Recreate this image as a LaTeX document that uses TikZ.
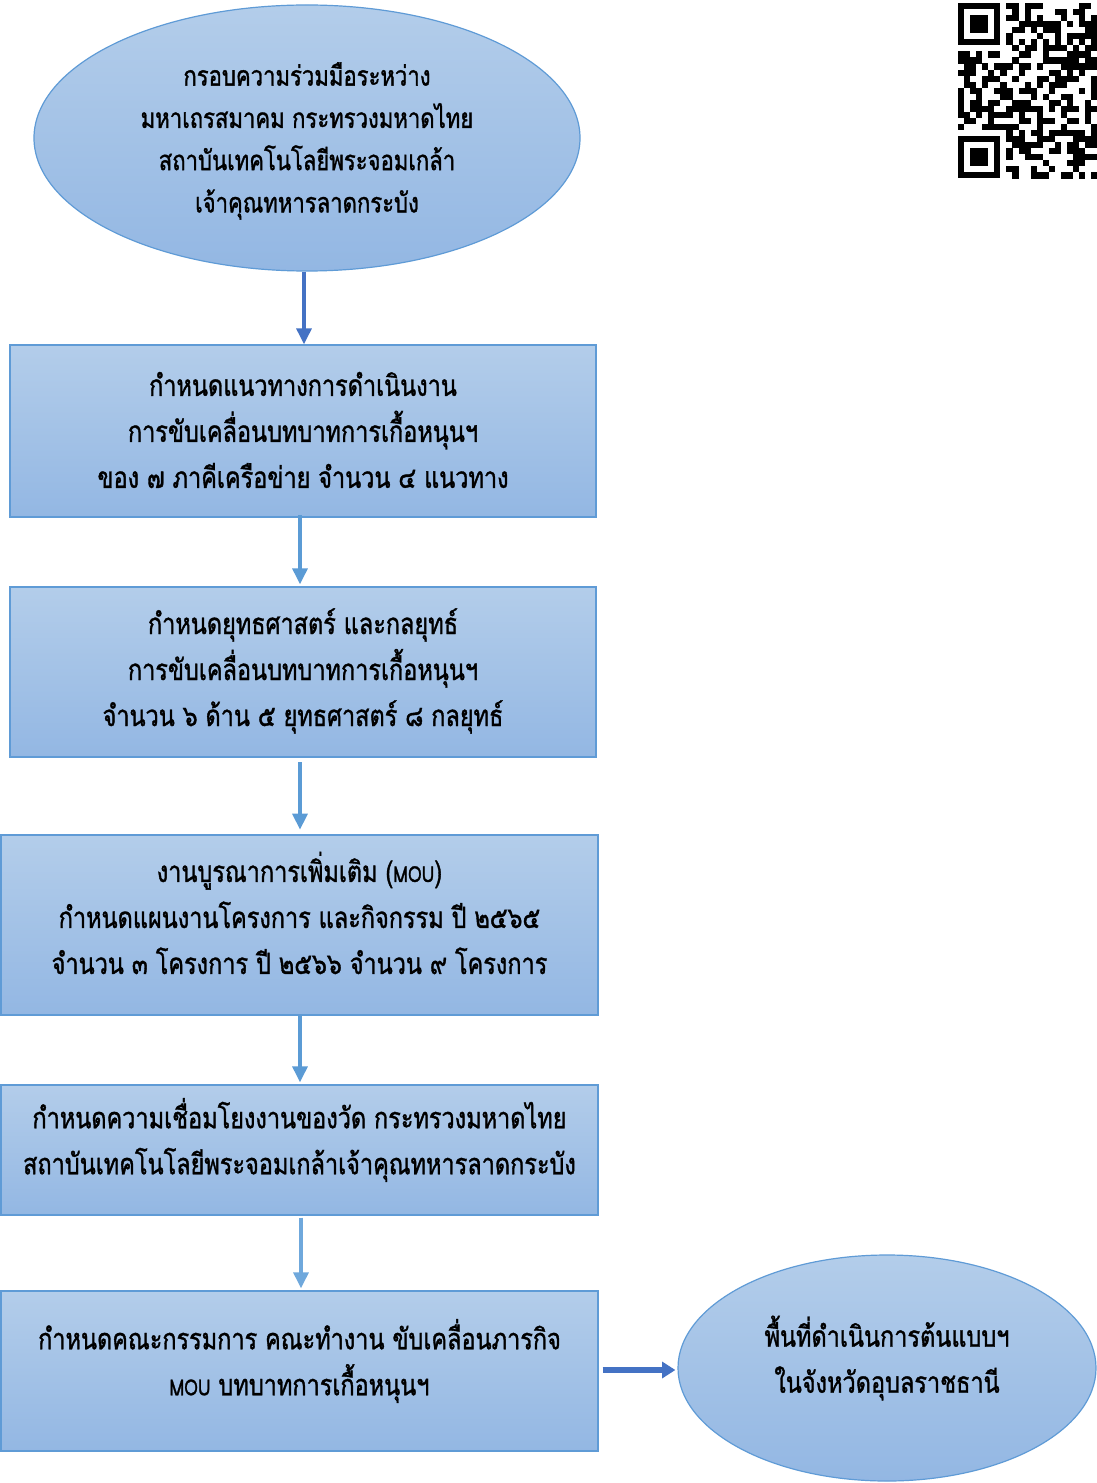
\documentclass[tikz,border=0pt]{standalone}
\usepackage{fontspec}
\setmainfont[Script=Thai,FakeStretch=0.8,FakeBold=1.2]{Loma}
\usetikzlibrary{arrows.meta,shapes.geometric}
\definecolor{filltop}{HTML}{B3CDEA}
\definecolor{fillbot}{HTML}{93B7E3}
\definecolor{boxline}{HTML}{5F9BD6}
\definecolor{arrdark}{HTML}{4472C4}
\definecolor{arrlight}{HTML}{5B9BD5}
\definecolor{arrpale}{HTML}{6FA8DC}
\tikzset{
  stepbox/.style={draw=boxline, line width=0.9pt, top color=filltop, bottom color=fillbot,
    rectangle, inner sep=0pt},
  ovalbox/.style={draw=boxline, line width=0.9pt, top color=filltop, bottom color=fillbot,
    ellipse, inner sep=0pt},
  txt/.style={align=center, inner sep=0pt, font=\fontsize{22}{34.5}\selectfont},
  txtov/.style={align=center, inner sep=0pt, font=\fontsize{20.7}{31.7}\selectfont},
  flowarrow/.style={line width=3.7pt, -{Triangle[length=12pt,width=11pt]}},
}
\newcommand{\mou}{{\fontsize{16.5}{16.5}\selectfont MOU}}
\begin{document}
\begin{tikzpicture}[x=0.75pt,y=-0.75pt]
\useasboundingbox (0,0) rectangle (1096,1483);
\fill[white] (0,0) rectangle (1096,1483);

% shapes
\node[ovalbox, minimum width=409.5pt, minimum height=199.5pt] (e1) at (307,138) {};
\node[stepbox, minimum width=439.5pt, minimum height=129pt] (b1) at (303,431) {};
\node[stepbox, minimum width=439.5pt, minimum height=127.5pt] (b2) at (303,672) {};
\node[stepbox, minimum width=447.75pt, minimum height=135pt] (b3) at (299.5,925) {};
\node[stepbox, minimum width=447.75pt, minimum height=97.5pt] (b4) at (299.5,1150) {};
\node[stepbox, minimum width=447.75pt, minimum height=120pt] (b5) at (299.5,1371) {};
\node[ovalbox, minimum width=313.5pt, minimum height=169.5pt] (e2) at (887,1368) {};

% texts
\node[txtov] (t1) at (307,141) {กรอบความร่วมมือระหว่าง\\มหาเถรสมาคม กระทรวงมหาดไทย\\สถาบันเทคโนโลยีพระจอมเกล้า\\เจ้าคุณทหารลาดกระบัง};
\node[txt] (t2) at (303,430) {กำหนดแนวทางการดำเนินงาน\\การขับเคลื่อนบทบาทการเกื้อหนุนฯ\\ของ ๗ ภาคีเครือข่าย จำนวน ๔ แนวทาง};
\node[txt] (t3) at (303,671) {กำหนดยุทธศาสตร์ และกลยุทธ์\\การขับเคลื่อนบทบาทการเกื้อหนุนฯ\\จำนวน ๖ ด้าน ๕ ยุทธศาสตร์ ๘ กลยุทธ์};
\node[txt] (t4) at (299.5,913) {งานบูรณาการเพิ่มเติม (\mou)\\กำหนดแผนงานโครงการ และกิจกรรม ปี ๒๕๖๕\\จำนวน ๓ โครงการ ปี ๒๕๖๖ จำนวน ๙ โครงการ};
\node[txt] (t5) at (299.5,1140) {กำหนดความเชื่อมโยงงานของวัด กระทรวงมหาดไทย\\สถาบันเทคโนโลยีพระจอมเกล้าเจ้าคุณทหารลาดกระบัง};
\node[txt] (t6) at (299.5,1361) {กำหนดคณะกรรมการ คณะทำงาน ขับเคลื่อนภารกิจ\\\mou{} บทบาทการเกื้อหนุนฯ};
\node[txt] (t7) at (887,1358) {พื้นที่ดำเนินการต้นแบบฯ\\ในจังหวัดอุบลราชธานี};

% connector guide coordinates
\coordinate (x1) at (304,0);
\coordinate (x2) at (300,0);
\coordinate (x5) at (301,0);
\coordinate (y6) at (0,1370);

% connectors
\draw[flowarrow, arrdark] (e1.south -| x1) -- (b1.north -| x1);
\draw[flowarrow, arrlight, shorten <=-2pt, shorten >=1.5pt] (b1.south -| x2) -- (b2.north -| x2);
\draw[flowarrow, arrlight, shorten <=3.5pt, shorten >=3.5pt] (b2.south -| x2) -- (b3.north -| x2);
\draw[flowarrow, arrlight, shorten >=1.5pt] (b3.south -| x2) -- (b4.north -| x2);
\draw[flowarrow, arrpale, shorten <=1.5pt, shorten >=1.5pt] (b4.south -| x5) -- (b5.north -| x5);
\draw[line width=4.5pt, arrdark, -{Triangle[length=10pt,width=12pt]}, shorten <=3pt, shorten >=1.5pt] (b5.east |- y6) -- (e2.west |- y6);

% QR code (cropped)
\fill[black] (958,3) rectangle +(42.35,42.35);
\fill[white] (964.05,9.05) rectangle +(30.25,30.25);
\fill[black] (970.1,15.1) rectangle +(18.15,18.15);
\fill[black] (958,136.1) rectangle +(42.35,42.35);
\fill[white] (964.05,142.15) rectangle +(30.25,30.25);
\fill[black] (970.1,148.2) rectangle +(18.15,18.15);
\pgfmathsetseed{2718}
\foreach \r in {0,...,28}{
  \foreach \c in {0,...,22}{
    \pgfmathrandominteger{\rnd}{0}{1}
    \pgfmathtruncatemacro{\inf}{((\r<8)&&(\c<8))||((\r>20)&&(\c<8))}
    \ifnum\inf=0
      \ifnum\r=6 \pgfmathtruncatemacro{\rnd}{1-mod(\c,2)}\fi
      \ifnum\c=6 \pgfmathtruncatemacro{\rnd}{1-mod(\r,2)}\fi
      \ifnum\rnd=1
        \fill[black] ({958+\c*6.05},{3+\r*6.05}) rectangle +(6.15,6.15);
      \fi
    \fi
  }
}
\end{tikzpicture}
\end{document}
